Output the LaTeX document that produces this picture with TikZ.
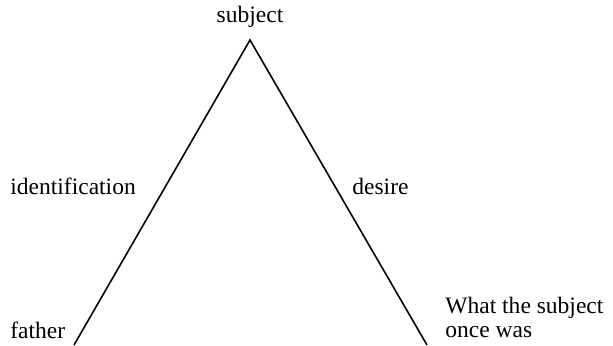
\documentclass[tikz,border=0pt]{standalone}
\usepackage{fontspec}
\setmainfont{Liberation Serif}
\begin{document}
\begin{tikzpicture}[x=0.5bp, y=0.5bp, font=\fontsize{11.8}{12}\selectfont]
				\useasboundingbox (0,0) rectangle (613,345);
				% Corners of the triangle
				\coordinate (apex) at (250,305);
				\coordinate (left) at (74,0);
				\coordinate (right) at (427,0);
				% The two sides
				\draw[thick] (left) -- (apex) -- (right);
				
				% Labels
				\node[anchor=base] (subj) at (250,323) {subject};
				\node[anchor=base west, inner sep=0pt] (ident) at (10,151) {identification};
				\node[anchor=base west, inner sep=0pt] (des) at (352,151) {desire};
				\node[anchor=base west, inner sep=0pt] (fath) at (10,7) {father};
				\node[anchor=base west, inner sep=0pt, align=left] (once) at (445,8) {What the subject\\once was};
				
			\end{tikzpicture}
\end{document}
